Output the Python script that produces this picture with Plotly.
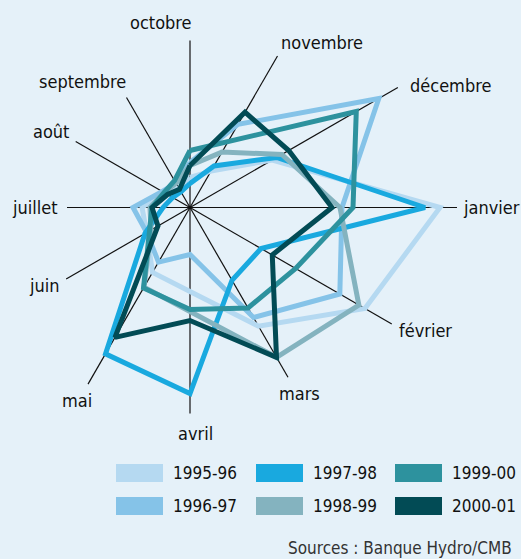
import numpy as np
import plotly.graph_objects as go

# ---------------- data ----------------
months = ["octobre", "novembre", "décembre", "janvier", "février", "mars",
          "avril", "mai", "juin", "juillet", "août", "septembre"]
seasons = ["1995-96", "1996-97", "1997-98", "1998-99", "1999-00", "2000-01"]

# values per month (oct -> sept) (arbitrary radial units)
v_1995_96 = [30, 42, 95, 250, 202, 137, 84, 75, 50, 48, 30, 22]
v_1996_97 = [45, 96, 218, 152, 173, 127, 47, 63, 50, 57, 32, 28]
v_1997_98 = [24, 48, 100, 235, 82, 84, 186, 169, 52, 27, 20, 18]
v_1998_99 = [42, 64, 106, 150, 195, 173, 104, 92, 45, 40, 30, 28]
v_1999_00 = [57, 76, 192, 163, 122, 116, 102, 93, 47, 38, 30, 31]
v_2000_01 = [42, 110, 114, 142, 95, 173, 113, 150, 37, 38, 26, 21]
series = [v_1995_96, v_1996_97, v_1997_98, v_1998_99, v_1999_00, v_2000_01]

source_text = "Sources : Banque Hydro/CMB"

# ---------------- styles / layout constants ----------------
colors = ["#b5d9f1", "#85c3e8", "#19a9df", "#84b3bf", "#2d929e", "#024b55"]
bg = "#e5f1f9"
W, H = 521, 559
CX, CY = 190, 207.5          # pixel position of the chart centre
spoke_len = [167, 175, 240, 267, 233, 196, 206, 204, 143, 123, 132, 127]
label_pos = [(161, 22), (322, 43), (450, 85), (491, 207), (425, 330), (299, 393),
             (195, 433), (77, 400), (44, 285), (35, 207), (51, 131), (82, 82)]
FONT = "Liberation Sans Narrow, Arial Narrow, DejaVu Sans Condensed, sans-serif"

theta = np.deg2rad(90 - 30 * np.arange(len(months)))

def to_xy(r):
    r = np.asarray(r, dtype=float)
    return r * np.cos(theta), r * np.sin(theta)

fig = go.Figure()

# spokes
sx, sy = [], []
ex, ey = to_xy(spoke_len)
for i in range(len(months)):
    sx += [0, ex[i], None]
    sy += [0, ey[i], None]
fig.add_trace(go.Scatter(x=sx, y=sy, mode="lines",
                         line=dict(color="#111111", width=1.2),
                         hoverinfo="skip", showlegend=False))

# series
for name, vals, col in zip(seasons, series, colors):
    x, y = to_xy(vals)
    x = np.append(x, x[0])
    y = np.append(y, y[0])
    fig.add_trace(go.Scatter(x=x, y=y, mode="lines", name=name,
                             line=dict(color=col, width=5),
                             showlegend=False))

def px(xp):
    return xp / W

def py(yp):
    return 1 - yp / H

annotations = []
for m, (lx, ly) in zip(months, label_pos):
    annotations.append(dict(x=px(lx), y=py(ly), xref="paper", yref="paper",
                            text=m, showarrow=False, xanchor="center", yanchor="middle",
                            font=dict(family=FONT, size=18, color="#111111")))

# manual legend
shapes = []
col_x = [116, 256, 395]
row_y = [473, 506]
for k, (name, col) in enumerate(zip(seasons, colors)):
    c, r = k // 2, k % 2
    x0 = col_x[c]
    yc = row_y[r]
    shapes.append(dict(type="rect", xref="paper", yref="paper",
                       x0=px(x0), x1=px(x0 + 47), y0=py(yc + 9), y1=py(yc - 9),
                       fillcolor=col, line=dict(width=0)))
    annotations.append(dict(x=px(x0 + 55), y=py(yc), xref="paper", yref="paper",
                            text=name, showarrow=False, xanchor="left", yanchor="middle",
                            font=dict(family=FONT, size=17, color="#111111")))

annotations.append(dict(x=px(514), y=py(548), xref="paper", yref="paper",
                        text=source_text, showarrow=False, xanchor="right", yanchor="middle",
                        font=dict(family=FONT, size=17, color="#333333")))

fig.update_layout(
    width=W, height=H,
    margin=dict(l=0, r=0, t=0, b=0),
    paper_bgcolor=bg, plot_bgcolor=bg,
    xaxis=dict(range=[-CX, W - CX], visible=False, fixedrange=True),
    yaxis=dict(range=[CY - H, CY], visible=False, fixedrange=True),
    annotations=annotations, shapes=shapes,
    showlegend=False,
)

fig.write_html("out.html", config={"displayModeBar": False},
               post_script="document.body.style.margin='0';document.body.style.background='" + bg + "';")
